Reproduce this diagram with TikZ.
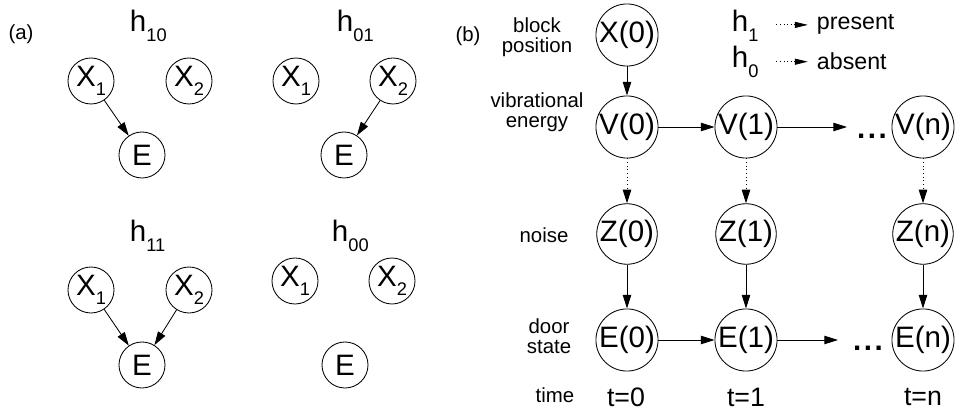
\documentclass[tikz,border=0pt]{standalone}
\usepackage{fontspec}
\setmainfont{Liberation Sans}
\usetikzlibrary{arrows.meta,positioning}

\newcommand{\lowsub}[1]{\raisebox{-0.32em}{\fontsize{13}{13}\selectfont #1}}

\begin{document}
\begin{tikzpicture}[
  x=0.025cm, y=-0.025cm,
  >={Triangle[length=3.4mm,width=2.1mm]},
  every node/.style={font=\fontsize{14.5}{14.5}\selectfont},
  var/.style={draw, circle, line width=0.6pt, minimum size=14mm,
              inner sep=0pt, font=\fontsize{21}{21}\selectfont},
  smallvar/.style={draw, circle, line width=0.6pt, minimum size=11.5mm,
              inner sep=0pt, font=\fontsize{21}{21}\selectfont},
  hyp/.style={anchor=base west, font=\fontsize{21}{21}\selectfont},
  side/.style={align=center},
  tlabel/.style={font=\fontsize{19}{19}\selectfont},
  more/.style={anchor=base, font=\fontsize{21}{21}\selectfont\bfseries},
  link/.style={->, line width=0.6pt},
  weak/.style={->, line width=0.6pt, dotted},
  legarrow/.style={-{Triangle[length=3.2mm,width=1.5mm]}, line width=0.6pt, dotted}
]
  \useasboundingbox (0,0) rectangle (969,411);

  % (a) the four hypotheses
  \node (taga) at (21,34) {(a)};

  \node[hyp] (h10) at (125,32) {h\lowsub{10}};
  \node[smallvar] (x1a) at (91,81) {X\lowsub{1}};
  \node[smallvar] (x2a) at (189,81) {X\lowsub{2}};
  \node[smallvar] (ea) at (142,155) {E};
  \draw[link] (x1a) -- (ea);

  \node[hyp] (h01) at (332,32) {h\lowsub{01}};
  \node[smallvar] (x1b) at (296,81) {X\lowsub{1}};
  \node[smallvar] (x2b) at (393,81) {X\lowsub{2}};
  \node[smallvar] (eb) at (344,155) {E};
  \draw[link] (x2b) -- (eb);

  \node[hyp] (h11) at (125,242) {h\lowsub{11}};
  \node[smallvar] (x1c) at (91,290) {X\lowsub{1}};
  \node[smallvar] (x2c) at (189,290) {X\lowsub{2}};
  \node[smallvar] (ec) at (142,365) {E};
  \draw[link] (x1c) -- (ec);
  \draw[link] (x2c) -- (ec);

  \node[hyp] (h00) at (327,242) {h\lowsub{00}};
  \node[smallvar] (x1d) at (295,281) {X\lowsub{1}};
  \node[smallvar] (x2d) at (392,281) {X\lowsub{2}};
  \node[smallvar] (ed) at (345,365) {E};

  % (b) the unrolled network
  \node (tagb) at (468,36) {(b)};

  \node[side] (lblx) at (537,37) {block\\position};
  \node[side] (lblv) at (537,112) {vibrational\\energy};
  \node[side] (lblz) at (544,235) {noise};
  \node[side] (lble) at (549,336) {door\\state};
  \node[side] (lblt) at (555,395) {time};

  \node[var] (x0) at (627,35) {X(0)};
  \node[var] (v0) at (627,127) {V(0)};
  \node[var] (v1) at (746,127) {V(1)};
  \node[var] (vn) at (923,127) {V(n)};
  \node[var] (z0) at (627,234) {Z(0)};
  \node[var] (z1) at (746,234) {Z(1)};
  \node[var] (zn) at (923,234) {Z(n)};
  \node[var] (e0) at (627,340) {E(0)};
  \node[var] (e1) at (746,340) {E(1)};
  \node[var] (en) at (923,340) {E(n)};

  \node[more] (vdots) at (872,139) {.\hspace{0.09em}.\hspace{0.09em}.};
  \node[more] (edots) at (868,351) {.\hspace{0.09em}.\hspace{0.09em}.};
  \coordinate (vgap) at (847,127);
  \coordinate (egap) at (838,340);

  \node[tlabel] (t0) at (626,397) {t=0};
  \node[tlabel] (t1) at (746,397) {t=1};
  \node[tlabel] (tn) at (923,397) {t=n};

  \draw[link] (x0) -- (v0);
  \draw[link] (v0) -- (v1);
  \draw[link] (v1) -- (vgap);
  \draw[weak] (v0) -- (z0);
  \draw[weak] (v1) -- (z1);
  \draw[weak] (vn) -- (zn);
  \draw[link] (z0) -- (e0);
  \draw[link] (z1) -- (e1);
  \draw[link] (zn) -- (en);
  \draw[link] (e0) -- (e1);
  \draw[link] (e1) -- (egap);

  % legend
  \node[hyp] (h1) at (727,32) {h\lowsub{1}};
  \node[hyp] (h0) at (727,68) {h\lowsub{0}};
  \node[anchor=base west, font=\fontsize{16.5}{16.5}\selectfont]
    (present) at (812,30) {present};
  \node[anchor=base west, font=\fontsize{16.5}{16.5}\selectfont]
    (absent) at (812,70) {absent};
  \draw[legarrow, shorten <=9pt, shorten >=3pt]
    (present.west -| h1.east) -- (present.west);
  \draw[legarrow, shorten <=9pt, shorten >=3pt]
    (absent.west -| h0.east) -- (absent.west);
\end{tikzpicture}
\end{document}
